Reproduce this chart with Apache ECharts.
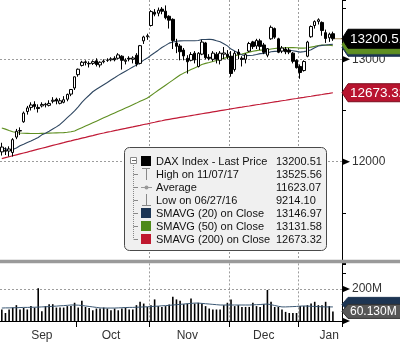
<!DOCTYPE html>
<html><head><meta charset="utf-8">
<script src="https://cdn.jsdelivr.net/npm/echarts@6/dist/echarts.min.js"></script>
<style>html,body{margin:0;padding:0;background:#fff}#c{width:400px;height:346px}</style>
</head><body><div id="c"></div>
<script>
// ---- Data (DAX Index, daily, Sep 2017 - Jan 2018) ----
const dates = [
 '09/01','09/04','09/05','09/06','09/07','09/08','09/11','09/12','09/13','09/14','09/15','09/18','09/19','09/20','09/21','09/22','09/25','09/26','09/27','09/28','09/29',
 '10/02','10/04','10/05','10/06','10/09','10/10','10/11','10/12','10/13','10/16','10/17','10/18','10/19','10/20','10/23','10/24','10/25','10/26','10/27','10/30',
 '11/01','11/02','11/03','11/06','11/07','11/08','11/09','11/10','11/13','11/14','11/15','11/16','11/17','11/20','11/21','11/22','11/23','11/24','11/27','11/28','11/29','11/30',
 '12/01','12/04','12/05','12/06','12/07','12/08','12/11','12/12','12/13','12/14','12/15','12/18','12/19','12/20','12/21','12/22','12/27','12/28','12/29',
 '01/02','01/03','01/04','01/05','01/08','01/09','01/10','01/11','01/12','01/15',
 '01/16','01/17'
];
const opens = [
 12096,12110,12104,12090,12240,12300,12390,12490,12530,12560,12530,12545,12555,12550,12590,12610,12570,12580,12610,12660,12720,
 12850,12940,12975,12960,12960,12985,12945,12975,12990,12995,13010,13010,13030,12980,13010,13000,13040,12960,13180,13220,
 13330,13460,13450,13490,13470,13420,13390,13160,13130,13090,13010,12990,13060,12930,13050,13160,13020,13000,13050,12990,13050,13050,
 13030,12900,13070,13010,13000,13080,13170,13130,13180,13140,13040,13200,13300,13200,13080,13100,13090,13060,12990,
 12930,12890,13030,13220,13330,13370,13360,13260,13210,13250
];
const closes = [
 12143,12102,12124,12215,12297,12304,12475,12525,12554,12540,12519,12559,12562,12569,12600,12592,12595,12605,12657,12705,12829,
 12903,12971,12968,12956,12977,12949,12971,12983,12992,13004,12995,13043,12990,12991,13003,13013,12953,13133,13218,13230,
 13466,13441,13479,13469,13406,13382,13183,13127,13074,13033,12976,13047,12994,13059,13168,13015,13009,13060,13000,13060,13062,13024,
 12861,13059,13049,12999,13045,13154,13124,13184,13126,13068,13104,13312,13216,13069,13110,13073,13070,12980,12918,
 12871,12978,13168,13320,13368,13386,13281,13203,13245,13200.51
];
const lows = [
 12060,12065,12050,12050,12220,12260,12380,12460,12500,12510,12480,12530,12530,12540,12570,12560,12560,12570,12590,12640,12700,
 12830,12930,12940,12920,12945,12930,12920,12960,12975,12980,12980,13000,12900,12950,12980,12960,12930,12950,13150,13190,
 13320,13420,13420,13440,13390,13300,13100,13060,12990,12990,12860,12980,12960,12920,13040,13000,12990,12980,12960,12950,13000,13000,
 12830,12880,13000,12930,12960,13070,13100,13100,13090,13050,13020,13190,13200,13060,13060,13050,13050,12960,12910,
 12810,12880,13020,13210,13300,13340,13230,13160,13170,13180
];
const highs = [
 12185,12140,12150,12230,12320,12335,12490,12545,12580,12590,12560,12580,12575,12600,12630,12625,12620,12640,12665,12710,12830,
 12910,12985,12990,12980,12990,13010,12980,13000,13010,13020,13030,13060,13040,13010,13030,13030,13060,13140,13230,13250,
 13480,13490,13505,13510,13526,13430,13400,13200,13150,13110,13040,13070,13080,13070,13190,13170,13050,13080,13070,13080,13120,13090,
 13080,13080,13100,13030,13060,13170,13180,13200,13200,13160,13110,13330,13310,13210,13130,13120,13110,13070,13000,
 12950,12990,13180,13330,13380,13400,13370,13290,13260,13270
];
const sma20 = [
 12133,12125,12117,12120,12134,12155,12171,12188,12203,12219,12237,12262,12278,12298,12319,12340,12364,12397,12430,12462,12496,
 12536,12579,12616,12649,12683,12707,12729,12751,12773,12797,12819,12843,12864,12884,12904,12925,12943,12966,12992,13012,
 13040,13064,13089,13115,13136,13158,13169,13176,13180,13181,13181,13181,13181,13184,13193,13193,13195,13192,13181,13172,13152,13131,
 13100,13080,13062,13043,13036,13037,13040,13047,13055,13056,13062,13074,13077,13079,13084,13085,13088,13084,13077,
 13070,13075,13081,13094,13113,13130,13136,13140,13143,13146.97
];
const sma50 = [
 12330,12318,12305,12293,12285,12280,12278,12277,12276,12276,12276,12277,12278,12279,12280,12281,12282,12284,12287,12292,12300,
 12316,12332,12348,12364,12380,12396,12412,12428,12444,12460,12476,12492,12508,12524,12540,12556,12572,12590,12606,12622,
 12647,12672,12697,12722,12747,12772,12797,12822,12847,12865,12882,12901,12916,12931,12949,12960,12969,12979,12989,12999,13009,13019,
 13024,13034,13043,13051,13060,13070,13078,13085,13090,13091,13094,13101,13106,13109,13111,13113,13115,13114,13113,
 13109,13109,13112,13119,13126,13135,13138,13137,13138,13131.58
];
const sma200 = [
 12030,12039,12048,12058,12067,12076,12085,12094,12104,12113,12122,12131,12140,12150,12159,12168,12177,12186,12196,12204,12213,
 12221,12230,12238,12247,12255,12264,12273,12280,12288,12295,12303,12310,12318,12325,12333,12340,12348,12355,12363,12370,
 12378,12385,12393,12400,12408,12414,12420,12426,12432,12438,12444,12450,12456,12462,12468,12474,12480,12486,12492,12498,12504,12510,
 12516,12522,12528,12533,12539,12544,12550,12556,12561,12567,12572,12578,12584,12589,12595,12600,12606,12612,12617,
 12623,12628,12634,12639,12645,12651,12656,12662,12667,12673.32
];
const volume = [ // millions
 72,50,72,84,99,72,82,72,93,84,205,61,93,105,105,84,84,84,93,93,114,
 84,126,88,82,67,78,78,84,78,67,78,67,78,84,72,72,99,120,109,88,
 99,135,93,88,93,103,152,135,126,105,109,141,109,114,109,93,78,72,72,72,99,114,
 135,93,99,88,88,88,114,93,88,105,194,120,88,88,72,57,50,50,50,
 93,93,99,109,120,99,99,120,93,60.13
];
const volumeMA = [
 81,82,82,83,83,84,85,85,86,86,87,88,89,90,92,93,95,96,98,100,100,
 99,97,94,91,88,85,82,81,81,81,81,82,83,84,85,85,86,87,88,89,
 90,92,93,95,96,98,100,102,104,106,108,110,112,112,110,108,106,104,102,100,100,100,
 100,100,100,100,100,100,101,102,103,105,106,102,97,92,88,88,89,90,91,
 93,94,93,92,91,90,89,88,88,88
];
const priceLabelTicks = [12000, 13000];
const volumeLabelTicks = [200];
const volumeArrowTicks = [0, 200];
const monthStartIdx = [21, 41, 63, 82];
const monthLabelIdx = [11, 30, 51, 72, 90];
const monthNames = ['Sep', 'Oct', 'Nov', 'Dec', 'Jan'];
const legendLabels = ['DAX Index - Last Price','High on 11/07/17','Average','Low on 06/27/16','SMAVG (20) on Close','SMAVG (50) on Close','SMAVG (200) on Close'];
const legendValues = ['13200.51','13525.56','11623.07','9214.10','13146.97','13131.58','12673.32'];
const lastVolumeLabel = '60.130M';

// ---- Chart ----
const FONT = 'Liberation Sans';
const C20 = '#2e4660', C50 = '#5f8f22', C200 = '#c01a36';
const chart = echarts.init(document.getElementById('c'), null, {renderer: 'canvas'});
const candleData = closes.map((c, i) => [opens[i], c, lows[i], highs[i]]);
const dashed = {color: '#9c9c9c', type: [2, 2], width: 1};
const splitX = {show: true, interval: (i) => monthStartIdx.indexOf(i) >= 0, showMinLine: false, showMaxLine: false, lineStyle: dashed};

const option = {
  animation: false,
  textStyle: {fontFamily: FONT},
  grid: [
    {left: 0, top: 0, width: 342, height: 264.1, outerBoundsMode: 'none'},
    {left: 0, top: 263.4, width: 342, height: 57.6, outerBoundsMode: 'none'}
  ],
  xAxis: [
    {type: 'category', gridIndex: 0, data: dates, boundaryGap: true,
     axisLine: {show: false}, axisTick: {show: false}, axisLabel: {show: false}, splitLine: splitX},
    {type: 'category', gridIndex: 1, data: dates, boundaryGap: true,
     axisLine: {show: true, lineStyle: {color: '#000', width: 1}},
     axisTick: {show: true, interval: (i) => monthStartIdx.indexOf(i) >= 0, length: 6, lineStyle: {color: '#000'}},
     axisLabel: {show: true, interval: (i) => monthLabelIdx.indexOf(i) >= 0,
       formatter: (v, i) => monthNames[monthLabelIdx.indexOf(i)] || '',
       fontFamily: FONT, fontSize: 12, color: '#333', margin: 9},
     splitLine: splitX}
  ],
  yAxis: [
    {type: 'value', gridIndex: 0, position: 'right', min: 11000, max: 13579, interval: 500,
     axisLine: {show: true, lineStyle: {color: '#000', width: 1}},
     axisTick: {show: true, length: 4, lineStyle: {color: '#000'}},
     splitLine: {show: false},
     axisLabel: {margin: 10, fontFamily: FONT, fontSize: 12, color: '#333',
       formatter: (v) => priceLabelTicks.indexOf(v) >= 0 ? String(v) : ''}},
    {type: 'value', gridIndex: 0, position: 'right', min: 11000, max: 13579, interval: 1000,
     axisLine: {show: false}, axisTick: {show: false}, axisLabel: {show: false},
     splitLine: {show: true, showMinLine: false, showMaxLine: false, lineStyle: dashed}},
    {type: 'value', gridIndex: 1, position: 'right', min: 0, max: 360, interval: 100,
     axisLine: {show: true, lineStyle: {color: '#000', width: 1}},
     axisTick: {show: true, length: 4, lineStyle: {color: '#000'}},
     splitLine: {show: false},
     axisLabel: {margin: 10, fontFamily: FONT, fontSize: 12, color: '#333',
       formatter: (v) => volumeLabelTicks.indexOf(v) >= 0 ? v + 'M' : ''}},
    {type: 'value', gridIndex: 1, position: 'right', min: 0, max: 360, interval: 200,
     axisLine: {show: false}, axisTick: {show: false}, axisLabel: {show: false},
     splitLine: {show: true, showMinLine: false, showMaxLine: false, lineStyle: dashed}}
  ],
  series: [
    {type: 'line', name: 'SMAVG (200)', xAxisIndex: 0, yAxisIndex: 0, data: sma200, symbol: 'none', lineStyle: {color: C200, width: 1.2}, z: 2},
    {type: 'line', name: 'SMAVG (50)', xAxisIndex: 0, yAxisIndex: 0, data: sma50, symbol: 'none', lineStyle: {color: C50, width: 1.1}, z: 2},
    {type: 'line', name: 'SMAVG (20)', xAxisIndex: 0, yAxisIndex: 0, data: sma20, symbol: 'none', lineStyle: {color: C20, width: 1.1}, z: 2},
    {type: 'candlestick', name: 'DAX', xAxisIndex: 0, yAxisIndex: 0, data: candleData, barWidth: 3,
     itemStyle: {color: '#fff', color0: '#000', borderColor: '#000', borderColor0: '#000', borderWidth: 1}, z: 3},
    {type: 'bar', name: 'Volume', xAxisIndex: 1, yAxisIndex: 2, data: volume, barWidth: 1.6,
     itemStyle: {color: '#000'}},
    {type: 'line', name: 'Volume MA', xAxisIndex: 1, yAxisIndex: 2, data: volumeMA, symbol: 'none', lineStyle: {color: '#3b5874', width: 1}, z: 3}
  ]
};
chart.setOption(option);

// ---- Overlays (legend box, value tags, axis arrows) ----
const yP = (v) => chart.convertToPixel({yAxisIndex: 0}, v);
const yV = (v) => chart.convertToPixel({yAxisIndex: 2}, v);
const lastIdx = closes.length - 1;
const xLast = chart.convertToPixel({xAxisIndex: 0}, lastIdx);
const AX = 342;

function tag(yc, h, fill, text, fs, stroke) {
  return [
    {type: 'polygon', shape: {points: [[AX, yc], [AX + 6, yc - h / 2], [402, yc - h / 2], [402, yc + h / 2], [AX + 6, yc + h / 2]]},
     style: {fill: fill, stroke: stroke || fill, lineWidth: 1}, z: 10},
    {type: 'text', x: AX + 8, y: yc + 0.5, style: {text: text, fill: '#fff', fontSize: fs, fontFamily: FONT, verticalAlign: 'middle', align: 'left'}, z: 11}
  ];
}
function arrow(yc) {
  return {type: 'polygon', shape: {points: [[AX, yc - 3.5], [AX + 8, yc], [AX, yc + 3.5]]}, style: {fill: '#000'}, z: 9};
}

const g = [];
// separator
g.push({type: 'rect', shape: {x: 0, y: 259.8, width: 400, height: 3.4}, style: {fill: '#9a9a9a'}, z: 5});
// axis arrows
priceLabelTicks.forEach(v => g.push(arrow(yP(v))));
volumeArrowTicks.forEach(v => g.push(arrow(yV(v))));
// last price connector
const yLast = yP(closes[lastIdx]);
g.push({type: 'line', shape: {x1: xLast + 2, y1: yLast, x2: AX, y2: yLast}, style: {stroke: '#a8905a', lineWidth: 1}, z: 6});
// SMA tags hidden behind the last price tag
g.push(...tag(yLast + 8.5, 18, '#1d3553', '', 13.5));
g.push(...tag(yLast + 6, 18, C50, '', 13.5));
g.push(...tag(yLast, 19, '#000', legendValues[0], 13.5));
g.push(...tag(yP(sma200[lastIdx]), 18, '#b8142f', legendValues[6], 13.5, '#7a0d1f'));
// volume tags
const yVol = yV(volume[lastIdx]);
g.push(...tag(yVol - 7, 14, '#1d3553', '', 12));
g.push(...tag(yVol, 14, '#575757', lastVolumeLabel, 12, '#333'));

// legend
const LX = 124.5, LY = 147.5, LW = 202, LH = 103;
g.push({type: 'rect', shape: {x: LX, y: LY, width: LW, height: LH, r: 5}, style: {fill: '#f0f0f0', stroke: '#4a4a4a', lineWidth: 1}, z: 20});
const rowY = [161, 174, 187, 200, 213, 226, 239];
g.push({type: 'line', shape: {x1: 133.5, y1: 165, x2: 133.5, y2: rowY[6]}, style: {stroke: '#888', lineWidth: 1, lineDash: [1, 1]}, z: 21});
for (let r = 1; r < rowY.length; r++) {
  g.push({type: 'line', shape: {x1: 133.5, y1: rowY[r] + 0.5, x2: 138, y2: rowY[r] + 0.5}, style: {stroke: '#888', lineWidth: 1}, z: 21});
}
g.push({type: 'rect', shape: {x: 130.5, y: rowY[0] - 3.5, width: 6, height: 6}, style: {fill: '#fff', stroke: '#888', lineWidth: 1}, z: 22});
g.push({type: 'line', shape: {x1: 132, y1: rowY[0] - 0.5, x2: 136, y2: rowY[0] - 0.5}, style: {stroke: '#666', lineWidth: 1}, z: 23});
g.push({type: 'rect', shape: {x: 141, y: rowY[0] - 5, width: 10, height: 10}, style: {fill: '#000'}, z: 22});
g.push({type: 'line', shape: {x1: 142, y1: rowY[1] - 5.5, x2: 150, y2: rowY[1] - 5.5}, style: {stroke: '#888', lineWidth: 1}, z: 22});
g.push({type: 'line', shape: {x1: 146.5, y1: rowY[1] - 5.5, x2: 146.5, y2: rowY[1] + 6}, style: {stroke: '#888', lineWidth: 1}, z: 22});
g.push({type: 'line', shape: {x1: 141, y1: rowY[2] + 0.5, x2: 152, y2: rowY[2] + 0.5}, style: {stroke: '#999', lineWidth: 1}, z: 22});
g.push({type: 'circle', shape: {cx: 146.5, cy: rowY[2] + 0.5, r: 2}, style: {fill: '#999'}, z: 22});
g.push({type: 'line', shape: {x1: 146.5, y1: rowY[3] - 6, x2: 146.5, y2: rowY[3] + 5.5}, style: {stroke: '#888', lineWidth: 1}, z: 22});
g.push({type: 'line', shape: {x1: 142, y1: rowY[3] + 5.5, x2: 151, y2: rowY[3] + 5.5}, style: {stroke: '#888', lineWidth: 1}, z: 22});
[[4, '#1c3554'], [5, '#4e8a1a'], [6, '#c0182e']].forEach(([r, col]) => {
  g.push({type: 'rect', shape: {x: 141, y: rowY[r] - 5, width: 10, height: 10}, style: {fill: col}, z: 22});
});
legendLabels.forEach((t, r) => {
  g.push({type: 'text', x: 156, y: rowY[r] + 0.5, style: {text: t, fill: '#111', fontSize: 11, fontFamily: FONT, verticalAlign: 'middle'}, z: 22});
  g.push({type: 'text', x: 276, y: rowY[r] + 0.5, style: {text: legendValues[r], fill: '#111', fontSize: 11, fontFamily: FONT, verticalAlign: 'middle'}, z: 22});
});
chart.setOption({graphic: g});
</script></body></html>
